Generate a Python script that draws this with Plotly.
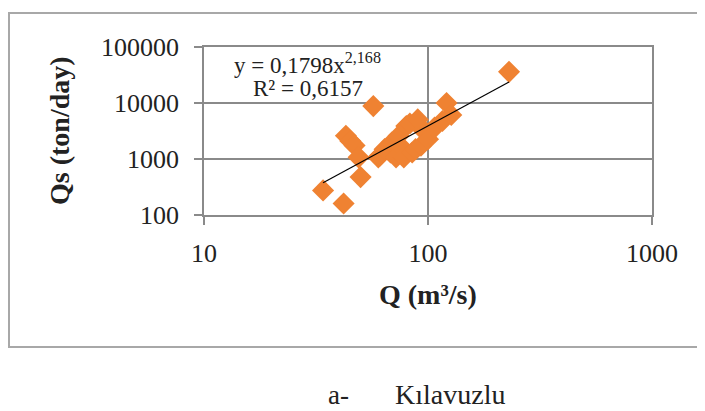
import plotly.graph_objects as go

# Data
Q = [34, 42, 43, 45, 47, 49, 50, 57, 60, 61, 64, 68, 69, 72, 74, 76, 78, 80, 83, 85, 88,
     90, 93, 95, 98, 100, 107, 116, 121, 127, 230]
Qs = [275, 160, 2600, 2100, 1750, 1070, 475, 8800, 1070, 1140, 1500, 1310, 1970, 1070,
      2590, 1650, 1070, 3880, 4300, 1310, 1500, 5100, 1720, 3300, 2960, 2260, 3640, 4760,
      10000, 6100, 36000]

coef_a = 0.1798
coef_b = 2.168
eq_text = "y = 0,1798x<sup>2,168</sup>"
r2_text = "R² = 0,6157"

x_ticks = [10, 100, 1000]
x_ticktext = ["10", "100", "1000"]
y_ticks = [100, 1000, 10000, 100000]
y_ticktext = ["100", "1000", "10000", "100000"]

# the page body has an 8px margin: work in page pixels, shift into figure pixels
OFF = 8
W, H = 705 - OFF, 411 - OFF
L, R, T, B = 204 - OFF, 652 - OFF, 47 - OFF, 215 - OFF  # plot area

trend_x = [min(Q), max(Q)]
trend_y = [coef_a * v ** coef_b for v in trend_x]

FONT = "Liberation Serif"
GRID = "#8a8a8a"
ORANGE = "#EF8232"
TXT = "#222222"

fig = go.Figure()
fig.add_trace(go.Scatter(x=Q, y=Qs, mode="markers",
                         marker=dict(symbol="diamond", size=17, color=ORANGE,
                                     line=dict(width=0)),
                         showlegend=False, hoverinfo="x+y"))
fig.add_trace(go.Scatter(x=trend_x, y=trend_y, mode="lines",
                         line=dict(color="black", width=1.2),
                         showlegend=False, hoverinfo="skip"))

def px_x(px):  # page pixel -> paper
    return (px - OFF - L) / (R - L)

def px_y(py):
    return (B - (py - OFF)) / (B - T)

fig.update_layout(
    width=W, height=H,
    margin=dict(l=L, r=W - R, t=T, b=H - B, pad=0, autoexpand=False),
    paper_bgcolor="white", plot_bgcolor="white",
    font=dict(family=FONT, color=TXT, size=16),
    xaxis=dict(type="log", range=[1, 3], tickvals=x_ticks, ticktext=x_ticktext,
               automargin=False,
               showgrid=True, gridcolor=GRID, gridwidth=1.5,
               showline=True, linecolor=GRID, linewidth=1.5, mirror=True,
               ticks="outside", ticklen=8, tickcolor=GRID, tickwidth=1.5,
               tickfont=dict(family=FONT, size=26, color=TXT),
               zeroline=False, ticklabelstandoff=6),
    yaxis=dict(type="log", range=[2, 5], tickvals=y_ticks, ticktext=y_ticktext,
               automargin=False,
               showgrid=True, gridcolor=GRID, gridwidth=1.5,
               showline=True, linecolor=GRID, linewidth=1.5, mirror=True,
               ticks="outside", ticklen=8, tickcolor=GRID, tickwidth=1.5,
               tickfont=dict(family=FONT, size=26, color=TXT),
               zeroline=False, ticklabelstandoff=10),
)

# outer chart border
fig.add_shape(type="rect", xref="paper", yref="paper",
              x0=px_x(9), x1=px_x(720), y0=px_y(347), y1=px_y(13),
              line=dict(color="#a8a8a8", width=2), fillcolor="rgba(0,0,0,0)",
              layer="below")

annos = [
    dict(text=eq_text, x=307, y=63, size=23),
    dict(text=r2_text, x=308, y=88, size=23),
    dict(text="<b>Q (m³/s)</b>", x=428, y=294, size=28),
    dict(text="a-", x=338, y=395, size=27),
    dict(text="Kılavuzlu", x=450, y=395, size=28),
]
for a in annos:
    fig.add_annotation(text=a["text"], xref="paper", yref="paper",
                       x=px_x(a["x"]), y=px_y(a["y"]),
                       xanchor="center", yanchor="middle", showarrow=False,
                       font=dict(family=FONT, size=a["size"], color=TXT))

fig.add_annotation(text="<b>Qs (ton/day)</b>", xref="paper", yref="paper",
                   x=px_x(59), y=px_y(131), textangle=-90,
                   xanchor="center", yanchor="middle", showarrow=False,
                   font=dict(family=FONT, size=28, color=TXT))

fig.write_html("out.html")
